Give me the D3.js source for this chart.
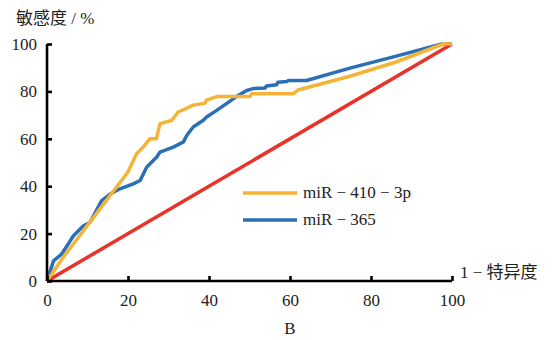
<!DOCTYPE html>
<html>
<head>
<meta charset="utf-8">
<script src="https://cdn.jsdelivr.net/npm/d3@7"></script>
<style>
  body { margin: 0; background: #fff; }
  svg text { font-family: "Liberation Serif", "DejaVu Serif", "Times New Roman", "Noto Sans CJK SC", serif; fill: #222; }
</style>
</head>
<body>
<svg id="chart" width="552" height="340"></svg>
<script>
// ROC points: [1 - specificity, sensitivity] in %
const miR410X = [0, 4, 8, 12, 16, 20, 22.1, 24, 25.4, 27, 27.9, 30.8, 32.4, 34, 36.1, 39, 39.4, 41.9, 47.7, 50.1, 50.5, 60.8, 62, 74.8, 86, 97.8, 100];
const miR410Y = [0, 10, 19, 28, 37, 46, 53.7, 57, 60, 60, 66.4, 67.8, 71.3, 72.5, 74.2, 75, 76.3, 77.8, 77.8, 77.8, 79, 79, 80.6, 86.4, 92.3, 100, 100];
const miR365X = [0, 1.6, 3.6, 6.5, 9, 10.6, 13.5, 15.6, 18, 21.3, 23, 24.6, 27.1, 27.9, 31.2, 33.7, 34.5, 36.1, 38.6, 39.4, 41.9, 46.8, 49.3, 50.9, 53.8, 54.2, 56.7, 57, 59.2, 59.6, 64.1, 74.8, 86, 97.5, 100];
const miR365Y = [0, 8.5, 11.3, 19, 23.3, 24.7, 33.9, 36.7, 38.9, 41, 42.4, 48, 52.3, 54.4, 56.5, 58.7, 61.4, 65, 67.8, 69.2, 72, 77.8, 80.4, 81.2, 81.4, 82.3, 82.8, 83.9, 84.2, 84.6, 84.6, 89.8, 94.8, 100, 100];
const refX = [0, 100];
const refY = [0, 100];
const xTicks = [0, 20, 40, 60, 80, 100];
const yTicks = [0, 20, 40, 60, 80, 100];
const seriesNames = ["miR − 410 − 3p", "miR − 365"];

const colors = { yellow: "#f5b435", blue: "#2b6fb6", red: "#e8322a" };
const serif = '"Liberation Serif", "DejaVu Serif", "Times New Roman", serif';

const svg = d3.select("#chart");
const margin = { left: 47, right: 100, top: 44, bottom: 59 };
const width = 552, height = 340;

const x = d3.scaleLinear().domain([0, 100]).range([margin.left, width - margin.right]);
const y = d3.scaleLinear().domain([0, 100]).range([height - margin.bottom, margin.top]);

const line = d3.line().x(d => x(d[0])).y(d => y(d[1]));

/* ========== LINES ========== */
const series = [
  { pts: d3.zip(refX, refY), color: colors.red },
  { pts: d3.zip(miR365X, miR365Y), color: colors.blue },
  { pts: d3.zip(miR410X, miR410Y), color: colors.yellow }
];

svg.selectAll("path.roc")
  .data(series)
  .join("path")
  .attr("class", "roc")
  .attr("fill", "none")
  .attr("stroke", d => d.color)
  .attr("stroke-width", 3.5)
  .attr("stroke-linejoin", "round")
  .attr("d", d => line(d.pts));

/* ========== AXES ========== */
const xAxis = d3.axisBottom(x).tickValues(xTicks).tickSize(-5).tickPadding(13);
const xg = svg.append("g")
  .attr("transform", `translate(0,${y(0)})`)
  .call(xAxis);

const yAxis = d3.axisLeft(y).tickValues(yTicks).tickSize(-5).tickPadding(10);
const yg = svg.append("g")
  .attr("transform", `translate(${x(0)},0)`)
  .call(yAxis);

[xg, yg].forEach(g => {
  g.attr("font-family", null);
  g.select(".domain").attr("stroke", "#000").attr("stroke-width", 2.6);
  g.selectAll(".tick line").attr("stroke", "#000").attr("stroke-width", 2.6);
  g.selectAll(".tick text")
    .style("font-family", serif)
    .style("font-size", "17px")
    .attr("fill", "#222");
});
xg.select(".domain").attr("d", `M${x(0)},0H${x(100)}`);
yg.select(".domain").attr("d", `M0,${y(0)}V${y(100)}`);

/* ========== TITLES ========== */
svg.append("text")
  .attr("x", 16).attr("y", 24)
  .style("font-size", "17px")
  .text("敏感度 / %");

svg.append("text")
  .attr("x", x(100) + 8).attr("y", y(0) - 3)
  .style("font-size", "17px")
  .text("1 − 特异度");

svg.append("text")
  .attr("x", 290).attr("y", 334)
  .attr("text-anchor", "middle")
  .style("font-size", "17px")
  .text("B");

/* ========== LEGEND ========== */
const legend = svg.append("g").attr("transform", "translate(243,193)");
const legendColors = [colors.yellow, colors.blue];
legend.selectAll("line")
  .data(seriesNames)
  .join("line")
  .attr("x1", 0).attr("x2", 54)
  .attr("y1", (d, i) => i * 27).attr("y2", (d, i) => i * 27)
  .attr("stroke", (d, i) => legendColors[i])
  .attr("stroke-width", 3.5);
legend.selectAll("text")
  .data(seriesNames)
  .join("text")
  .attr("x", 60)
  .attr("y", (d, i) => i * 27 + 5)
  .style("font-size", "17px")
  .text(d => d);
</script>
</body>
</html>
